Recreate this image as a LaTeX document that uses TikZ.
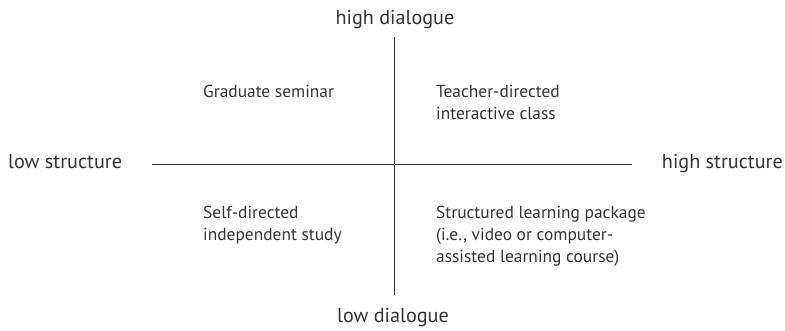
\documentclass[tikz,border=0pt]{standalone}
\usepackage{fontspec}
\setmainfont{PT Sans}
\usepackage{xcolor}
\usepackage{tikz}

\definecolor{inkgray}{HTML}{333333}

\begin{document}
\begin{tikzpicture}[x=1pt, y=-1pt,
    axis/.style={inkgray, line width=1pt},
    pole/.style={inkgray, inner sep=0pt, font=\fontsize{20.2}{24}\selectfont},
    quad/.style={inkgray, inner sep=0pt, align=left, anchor=base west,
                 font=\fontsize{17.4}{22}\selectfont}]
\useasboundingbox (0,0) rectangle (785,330);
\coordinate (L) at (152,164);
\coordinate (R) at (632,164);
\coordinate (T) at (394,37);
\coordinate (B) at (394,295);
\draw[axis] (L) -- (R);
\draw[axis] (T) -- (B);
% axis ends
\node[pole, anchor=base] (hidlg) at (395,24) {high dialogue};
\node[pole, anchor=base] (lodlg) at (393,322) {low dialogue};
\node[pole, anchor=base west] (lostr) at (8,168) {low structure};
\node[pole, anchor=base east] (histr) at (783,168) {high structure};
% quadrants (anchored at the last line)
\node[quad] (grad) at (203,97) {Graduate seminar};
\node[quad] (teach) at (436,119) {Teacher-directed\\interactive class};
\node[quad] (self) at (203,240) {Self-directed\\independent study};
\node[quad] (pack) at (436,262) {Structured learning package\\(i.e., video or computer-\\assisted learning course)};
\end{tikzpicture}
\end{document}
